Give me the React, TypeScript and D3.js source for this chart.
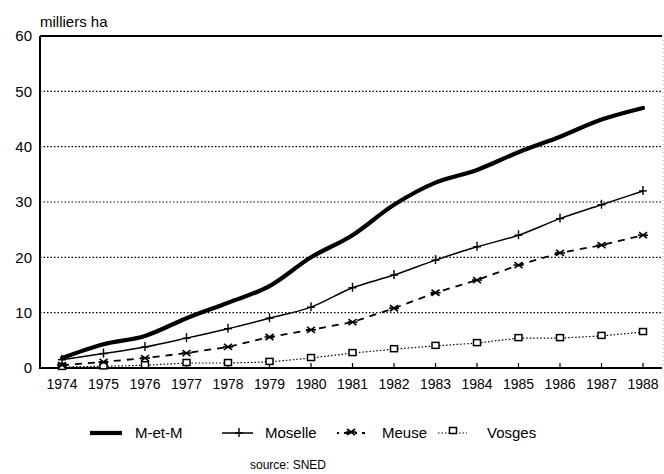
import React from "react";
import * as d3 from "d3";

const years = [1974, 1975, 1976, 1977, 1978, 1979, 1980, 1981, 1982, 1983, 1984, 1985, 1986, 1987, 1988];
const metm = [1.8, 4.3, 5.8, 9.0, 11.8, 14.8, 20.0, 24.0, 29.5, 33.5, 35.8, 39.0, 41.8, 44.9, 47.0];
const moselle = [1.5, 2.6, 3.8, 5.4, 7.1, 9.0, 11.0, 14.5, 16.8, 19.5, 21.9, 24.0, 27.0, 29.5, 32.0];
const meuse = [0.5, 1.1, 1.8, 2.7, 3.8, 5.6, 6.9, 8.3, 10.8, 13.6, 15.9, 18.6, 20.8, 22.2, 24.0];
const vosges = [0.2, 0.3, 0.5, 0.9, 0.9, 1.1, 1.8, 2.7, 3.4, 4.0, 4.5, 5.4, 5.4, 5.8, 6.5];
const yTicks = [0, 10, 20, 30, 40, 50, 60];
const legendLabels = ["M-et-M", "Moselle", "Meuse", "Vosges"];
const yUnit = "milliers ha";
const sourceText = "source: SNED";

const FONT = "'Liberation Sans', Arial, sans-serif";

export default function App() {
  const x = d3.scaleLinear().domain([1974, 1988]).range([62, 643]);
  const y = d3.scaleLinear().domain([0, 60]).range([368, 36]);
  const left = 40;
  const right = 662;

  const mk = (vals: number[], curve: d3.CurveFactory) =>
    d3
      .line<number>()
      .x((_, i) => x(years[i]))
      .y((v) => y(v))
      .curve(curve)(vals) || "";

  const plus = (cx: number, cy: number, k: string) => (
    <g key={k} stroke="#000" strokeWidth={1.4}>
      <line x1={cx - 4} x2={cx + 4} y1={cy} y2={cy} />
      <line x1={cx} x2={cx} y1={cy - 5} y2={cy + 4} />
    </g>
  );
  const star = (cx: number, cy: number, k: string) => (
    <g key={k} stroke="#000" strokeWidth={1.6}>
      <line x1={cx - 4} x2={cx + 4} y1={cy - 3} y2={cy + 3} />
      <line x1={cx - 4} x2={cx + 4} y1={cy + 3} y2={cy - 3} />
      <line x1={cx - 5} x2={cx + 5} y1={cy} y2={cy} />
    </g>
  );
  const square = (cx: number, cy: number, k: string) => (
    <rect key={k} x={cx - 3.5} y={cy - 3.5} width={7} height={6} fill="#fff" stroke="#000" strokeWidth={1.5} />
  );

  const legendX = [90, 222, 337, 438];
  const legendTextX = [135, 265, 382, 487];
  const ly = 433;

  return (
    <svg width={664} height={474} style={{ position: "absolute", left: 0, top: 0, background: "#fff" }} fontFamily={FONT}>
      <rect x={0} y={0} width={664} height={474} fill="#fff" />
      {yTicks.slice(1, -1).map((t) => (
        <line key={"g" + t} x1={left} x2={right} y1={y(t)} y2={y(t)} stroke="#000" strokeWidth={1.2} strokeDasharray="1.5,2" />
      ))}
      <line x1={left} x2={right} y1={y(60)} y2={y(60)} stroke="#000" strokeWidth={1.8} />
      <line x1={right + 1} x2={right + 1} y1={y(60)} y2={y(0)} stroke="#999" strokeWidth={0.8} strokeDasharray="1,3" />
      <line x1={left} x2={left} y1={y(60)} y2={y(0) + 1} stroke="#000" strokeWidth={2} />
      <line x1={left} x2={right} y1={y(0)} y2={y(0)} stroke="#000" strokeWidth={2} />
      {years.map((yr) => (
        <line key={"t" + yr} x1={x(yr)} x2={x(yr)} y1={y(0)} y2={y(0) - 5} stroke="#000" strokeWidth={1.2} />
      ))}
      {yTicks.map((t) => (
        <text key={"yl" + t} x={32} y={y(t)} dy="0.36em" textAnchor="end" fontSize={15} fill="#000">
          {t}
        </text>
      ))}
      <text x={40} y={27} fontSize={15} fill="#000">{yUnit}</text>
      {years.map((yr) => (
        <text key={"xl" + yr} x={x(yr)} y={384} dy="0.36em" textAnchor="middle" fontSize={14} fill="#000">
          {yr}
        </text>
      ))}
      <path d={mk(vosges, d3.curveLinear)} fill="none" stroke="#000" strokeWidth={1.2} strokeDasharray="1.5,2" />
      {vosges.map((v, i) => square(x(years[i]), y(v), "s" + i))}
      <path d={mk(meuse, d3.curveLinear)} fill="none" stroke="#000" strokeWidth={1.8} strokeDasharray="7,6" />
      {meuse.map((v, i) => star(x(years[i]), y(v), "m" + i))}
      <path d={mk(moselle, d3.curveMonotoneX)} fill="none" stroke="#000" strokeWidth={1.5} />
      {moselle.map((v, i) => plus(x(years[i]), y(v), "p" + i))}
      <path d={mk(metm, d3.curveMonotoneX)} fill="none" stroke="#000" strokeWidth={4.2} strokeLinecap="round" />
      <line x1={legendX[0]} x2={legendX[0] + 32} y1={ly} y2={ly} stroke="#000" strokeWidth={4.2} />
      <line x1={legendX[1]} x2={legendX[1] + 31} y1={ly} y2={ly} stroke="#000" strokeWidth={1.5} />
      {plus(legendX[1] + 17, ly, "lp")}
      <line x1={legendX[2]} x2={legendX[2] + 28} y1={ly} y2={ly} stroke="#000" strokeWidth={1.8} strokeDasharray="2,5,7,4" />
      {star(legendX[2] + 14, ly - 1, "ls")}
      <line x1={legendX[3]} x2={legendX[3] + 29} y1={ly} y2={ly} stroke="#000" strokeWidth={1.2} strokeDasharray="1.5,2" />
      {square(legendX[3] + 15, ly - 2, "lq")}
      {legendLabels.map((l, i) => (
        <text key={"lt" + i} x={legendTextX[i]} y={ly} dy="0.36em" fontSize={15} fill="#000">
          {l}
        </text>
      ))}
      <text x={288} y={465} dy="0.36em" textAnchor="middle" fontSize={12} fill="#000">{sourceText}</text>
    </svg>
  );
}
